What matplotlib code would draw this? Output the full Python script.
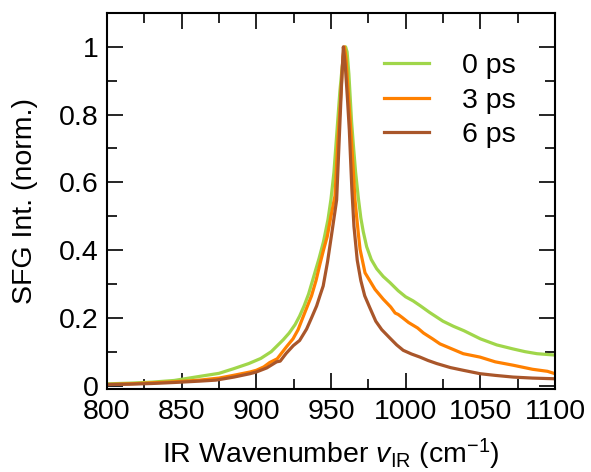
import numpy as np
import matplotlib.pyplot as plt
from matplotlib.ticker import MultipleLocator

plt.rcParams['font.family'] = ['Liberation Sans', 'DejaVu Sans']
plt.rcParams['mathtext.fontset'] = 'custom'
plt.rcParams['mathtext.it'] = 'Liberation Sans:italic'
plt.rcParams['mathtext.rm'] = 'Liberation Sans'

# 0 ps
x_0ps = [800, 815, 830, 845, 862, 875, 885, 895, 903, 910, 918, 922, 926, 929,
         932, 935, 939, 942, 945, 948, 950, 952, 954, 956, 957.5, 958.8, 959.8,
         960.8, 962, 963.8, 965, 966.5, 968.3, 970, 971.6, 973.9, 977, 980.6,
         985, 989.5, 995, 1000, 1005, 1010, 1016, 1025, 1032, 1039, 1050, 1061,
         1072, 1080, 1088, 1100]
y_0ps = [0.005, 0.007, 0.01, 0.015, 0.027, 0.036, 0.05, 0.065, 0.08, 0.1, 0.135,
         0.155, 0.18, 0.205, 0.235, 0.27, 0.33, 0.375, 0.425, 0.49, 0.55, 0.63,
         0.75, 0.87, 0.94, 0.985, 1.0, 0.985, 0.92, 0.78, 0.71, 0.63, 0.555,
         0.495, 0.455, 0.41, 0.372, 0.345, 0.322, 0.304, 0.28, 0.262, 0.25,
         0.235, 0.216, 0.19, 0.175, 0.162, 0.138, 0.12, 0.108, 0.1, 0.094, 0.09]

# 3 ps
x_3ps = [800, 815, 830, 845, 862, 875, 884.6, 895.8, 900, 905, 909, 914, 920.3,
         924.6, 928, 932, 937, 940, 942.7, 945, 947.5, 950, 952.7, 954.6, 956.5,
         958, 959, 960, 961.5, 963.8, 966.1, 968.3, 969.5, 972.8, 979.5, 985,
         990, 993, 995, 998, 1002, 1008, 1012, 1018, 1023, 1030, 1038.6, 1049.8,
         1060, 1072, 1085, 1095, 1100]
y_3ps = [0.003, 0.005, 0.008, 0.011, 0.016, 0.022, 0.03, 0.04, 0.045, 0.055,
         0.068, 0.079, 0.115, 0.138, 0.165, 0.21, 0.265, 0.31, 0.36, 0.40, 0.44,
         0.5, 0.56, 0.72, 0.85, 0.97, 1.0, 0.97, 0.87, 0.72, 0.548, 0.45, 0.402,
         0.333, 0.284, 0.255, 0.232, 0.214, 0.21, 0.2, 0.186, 0.17, 0.155, 0.138,
         0.123, 0.11, 0.094, 0.084, 0.07, 0.06, 0.048, 0.042, 0.035]

# 6 ps
x_6ps = [800, 815, 830, 845, 862, 873, 885, 895.8, 900, 907, 913.6, 916, 920,
         924.8, 929, 933.7, 937, 940.4, 942.6, 944.8, 947.7, 950.9, 953.8, 955.5,
         957, 958.3, 959.5, 961, 962.3, 964, 965.4, 967.6, 970, 972.6, 976, 980,
         984, 989.5, 994, 998.4, 1004, 1009.6, 1015, 1020.8, 1030, 1038.6,
         1049.8, 1060, 1072, 1085, 1100]
y_6ps = [0.003, 0.004, 0.006, 0.009, 0.013, 0.016, 0.025, 0.035, 0.04, 0.052,
         0.07, 0.072, 0.095, 0.118, 0.133, 0.167, 0.2, 0.235, 0.265, 0.294,
         0.365, 0.46, 0.548, 0.724, 0.88, 1.0, 0.95, 0.85, 0.754, 0.58, 0.47,
         0.37, 0.31, 0.265, 0.23, 0.19, 0.165, 0.14, 0.12, 0.104, 0.093, 0.084,
         0.074, 0.065, 0.053, 0.045, 0.035, 0.03, 0.025, 0.022, 0.02]

labels = ['0 ps', '3 ps', '6 ps']
colors = ['#a0d64a', '#ff8000', '#a9562a']

fig = plt.figure(figsize=(5.91, 4.72), dpi=100)
ax = fig.add_axes([0.181, 0.176, 0.758, 0.7965])

for xs, ys, lab, c in zip([x_0ps, x_3ps, x_6ps], [y_0ps, y_3ps, y_6ps], labels, colors):
    ax.plot(xs, ys, color=c, lw=2.3, label=lab)

ax.set_xlim(800, 1100)
ax.set_ylim(-0.01, 1.1)
ax.xaxis.set_major_locator(MultipleLocator(50))
ax.xaxis.set_minor_locator(MultipleLocator(25))
ax.yaxis.set_minor_locator(MultipleLocator(0.1))
ax.set_yticks([0, 0.2, 0.4, 0.6, 0.8, 1.0])
ax.set_yticklabels(['0', '0.2', '0.4', '0.6', '0.8', '1'])

ax.tick_params(which='both', direction='in', top=True, right=True,
               labelsize=20.5, width=1.2)
ax.tick_params(axis='x', pad=7)
ax.tick_params(axis='y', pad=6)
ax.tick_params(which='major', length=11.5)
ax.tick_params(which='minor', length=7)
for s in ax.spines.values():
    s.set_linewidth(1.5)

ax.set_xlabel(r'IR Wavenumber $v_{\mathrm{IR}}$ (cm$^{-1}$)', fontsize=20.5, labelpad=9)
ax.set_ylabel('SFG Int. (norm.)', fontsize=20.5, labelpad=15)

ax.legend(loc='upper left', bbox_to_anchor=(0.618, 0.893), frameon=False,
          fontsize=20.5, handlelength=1.58, handletextpad=1.17, labelspacing=0.3,
          borderaxespad=0, borderpad=0)

fig.savefig('out.png', dpi=100)
